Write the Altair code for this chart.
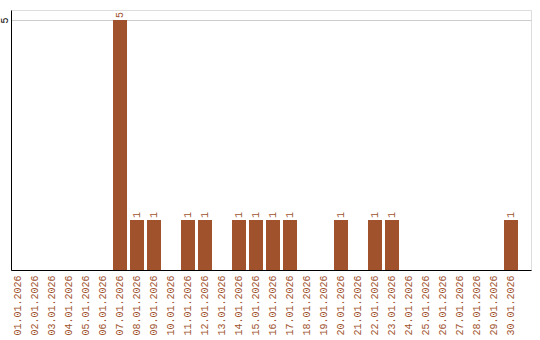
import altair as alt
import pandas as pd

dates = [f"{d:02d}.01.2026" for d in range(1, 31)]
values = [0, 0, 0, 0, 0, 0, 5, 1, 1, 0, 1, 1, 0, 1, 1, 1, 1, 0, 0, 1, 0, 1, 1, 0, 0, 0, 0, 0, 0, 1]

df = pd.DataFrame({"date": dates, "value": values})
COLOR = "#a0522d"
FONT = "Liberation Mono"

x = alt.X("date:N", sort=None, title=None,
          scale=alt.Scale(paddingInner=0.176, paddingOuter=0.382, align=0),
          axis=alt.Axis(labelAngle=270, labelAlign="right", labelBaseline="middle",
                        labelColor=COLOR, labelFont=FONT, labelFontSize=10,
                        ticks=False, labelPadding=5, domainColor="#000000",
                        grid=False, labelOverlap=False))
y = alt.Y("value:Q", title=None,
          scale=alt.Scale(domain=[0, 5.2], nice=False),
          axis=alt.Axis(values=[5], labelAngle=270, labelAlign="center", labelBaseline="bottom",
                        labelColor="#000000", labelFont=FONT, labelFontSize=10,
                        ticks=False, labelPadding=2, domainColor="#000000",
                        grid=True, gridColor="#cccccc"))

bars = alt.Chart(df).mark_bar(color=COLOR).encode(x=x, y=y)
text = alt.Chart(df).transform_filter("datum.value > 0").mark_text(
    angle=270, align="left", baseline="middle", dx=2, color=COLOR,
    font=FONT, fontSize=10
).encode(x=alt.X("date:N", sort=None), y="value:Q", text="value:Q")

chart = (bars + text).properties(
    width=520, height=260,
    autosize=alt.AutoSizeParams(type="none"),
    padding={"left": 11, "top": 10, "right": 9, "bottom": 70},
).configure_view(stroke=None).configure(background="white")

chart.save("out.html", embed_options={"renderer": "svg", "actions": False})
